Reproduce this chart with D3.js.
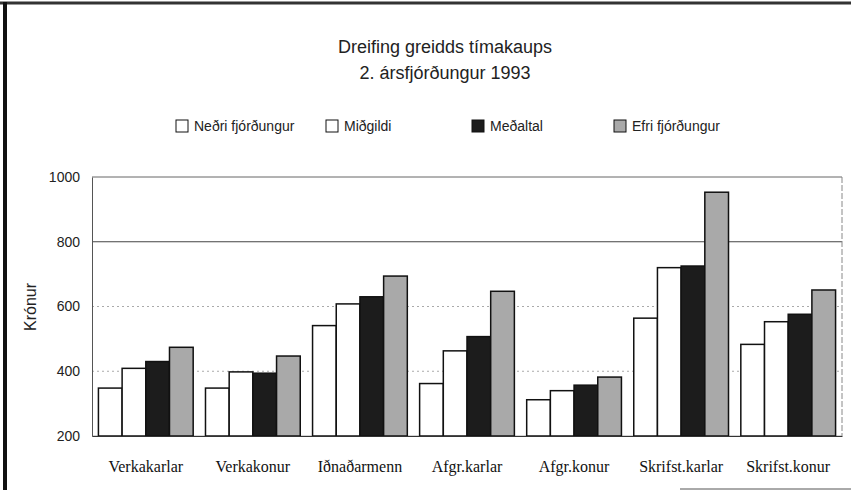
<!DOCTYPE html>
<html>
<head>
<meta charset="utf-8">
<script src="https://cdn.jsdelivr.net/npm/d3@7"></script>
<style>
  body { margin: 0; background: #fff; }
  svg text { font-family: "Liberation Sans", Arial, sans-serif; }
  .cat { font-family: "Liberation Serif", "Times New Roman", serif !important; }
</style>
</head>
<body>
<div id="chart"></div>
<script>
// categories and series
const groups = ["Verkakarlar", "Verkakonur", "Iðnaðarmenn", "Afgr.karlar", "Afgr.konur", "Skrifst.karlar", "Skrifst.konur"];
const seriesNames = ["Neðri fjórðungur", "Miðgildi", "Meðaltal", "Efri fjórðungur"];
const nedri   = [348, 348, 541, 362, 312, 564, 483];
const midgildi = [409, 398, 608, 463, 340, 720, 553];
const medaltal = [430, 394, 630, 507, 357, 725, 576];
const efri    = [474, 447, 694, 647, 382, 953, 651];
const yTicks = [200, 400, 600, 800, 1000];

const seriesValues = [nedri, midgildi, medaltal, efri];
const fills = ["#ffffff", "#ffffff", "#1c1c1c", "#a9a9a9"];

const W = 851, H = 490;
const margin = { top: 177, right: 9, bottom: 54, left: 92 };
const width = W - margin.left - margin.right;
const height = H - margin.top - margin.bottom;

const svg = d3.select("#chart").append("svg")
    .attr("width", W)
    .attr("height", H);

// page frame (scanned border)
svg.append("line").attr("x1", 0).attr("x2", W).attr("y1", 3).attr("y2", 3)
    .attr("stroke", "#333").attr("stroke-width", 3);
svg.append("line").attr("x1", 5).attr("x2", 5).attr("y1", 2).attr("y2", H)
    .attr("stroke", "#111").attr("stroke-width", 4);
svg.append("line").attr("x1", 680).attr("x2", W).attr("y1", 489).attr("y2", 489)
    .attr("stroke", "#555").attr("stroke-width", 1);

// title
svg.append("text").attr("x", 445).attr("y", 53).attr("text-anchor", "middle")
    .attr("font-size", 18).attr("fill", "#222").text("Dreifing greidds tímakaups");
svg.append("text").attr("x", 445).attr("y", 79).attr("text-anchor", "middle")
    .attr("font-size", 18).attr("fill", "#222").text("2. ársfjórðungur 1993");

// legend
const legendX = [176, 326, 472, 614];
const legend = svg.append("g").selectAll("g")
    .data(seriesNames)
    .enter().append("g")
    .attr("transform", (d, i) => `translate(${legendX[i]},120)`);
legend.append("rect")
    .attr("width", 12).attr("height", 12)
    .attr("fill", (d, i) => fills[i])
    .attr("stroke", "#111").attr("stroke-width", 1);
legend.append("text")
    .attr("x", 18).attr("y", 11)
    .attr("font-size", 14).attr("fill", "#222")
    .text(d => d);

const g = svg.append("g").attr("transform", `translate(${margin.left},${margin.top})`);

const x0 = d3.scaleBand().domain(groups).range([0, width]).paddingInner(0.115).paddingOuter(0.06);
const x1 = d3.scaleBand().domain(d3.range(seriesNames.length)).range([0, x0.bandwidth()]);
const y = d3.scaleLinear().domain([200, 1000]).range([height, 0]);

// gridlines
g.selectAll(".grid")
    .data(yTicks)
    .enter().append("line")
    .attr("x1", 0).attr("x2", width)
    .attr("y1", d => y(d)).attr("y2", d => y(d))
    .attr("stroke", d => d === 800 ? "#444" : (d === 1000 ? "#666" : "#aaa"))
    .attr("stroke-width", 1)
    .attr("stroke-dasharray", d => (d === 400 || d === 600) ? "2,3" : null);

// plot frame right edge
g.append("line").attr("x1", width).attr("x2", width).attr("y1", 0).attr("y2", height)
    .attr("stroke", "#888").attr("stroke-dasharray", "6,2");

// bars
const rows = groups.map((name, gi) => ({ name, vals: seriesValues.map(s => s[gi]) }));
const grp = g.selectAll(".grp")
    .data(rows)
    .enter().append("g")
    .attr("transform", d => `translate(${x0(d.name)},0)`);
grp.selectAll("rect")
    .data(d => d.vals)
    .enter().append("rect")
    .attr("x", (d, i) => x1(i))
    .attr("y", d => y(d))
    .attr("width", x1.bandwidth())
    .attr("height", d => height - y(d))
    .attr("fill", (d, i) => fills[i])
    .attr("stroke", "#111")
    .attr("stroke-width", 1.5);

// axes
const yAxis = g.append("g").call(d3.axisLeft(y).tickValues(yTicks).tickFormat(d3.format("d")).tickSize(0).tickPadding(12));
yAxis.select(".domain").attr("stroke", "#555");
yAxis.selectAll("text").attr("font-size", 14).attr("fill", "#222")
    .attr("font-family", "'Liberation Sans', Arial, sans-serif");

const xAxis = g.append("g").attr("transform", `translate(0,${height})`)
    .call(d3.axisBottom(x0).tickSize(0).tickPadding(25));
xAxis.select(".domain").attr("stroke", "#333");
xAxis.selectAll("text").attr("class", "cat").attr("font-size", 16).attr("fill", "#111");

// y label
svg.append("text")
    .attr("transform", "translate(36,307) rotate(-90)")
    .attr("text-anchor", "middle")
    .attr("font-size", 16).attr("fill", "#222")
    .text("Krónur");
</script>
</body>
</html>
